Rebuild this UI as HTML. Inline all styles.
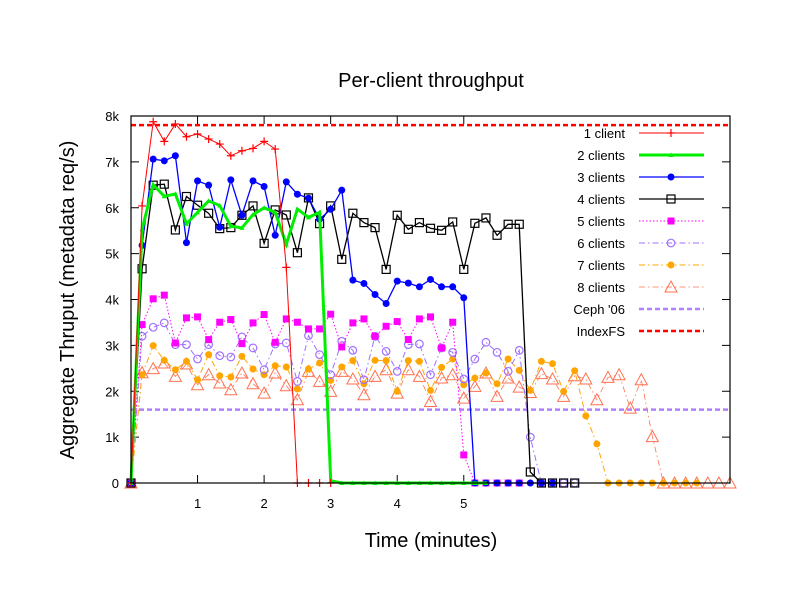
<!DOCTYPE html>
<html><head><meta charset="utf-8"><style>
body{margin:0;background:#fff;}
svg{display:block;font-family:"Liberation Sans",sans-serif;}
</style></head><body>
<svg id="chart" width="792" height="612" xmlns="http://www.w3.org/2000/svg">
<rect width="792" height="612" fill="#fff"/>
<text x="431" y="87" font-size="20" text-anchor="middle">Per-client throughput</text>
<text x="431" y="547" font-size="20" text-anchor="middle">Time (minutes)</text>
<text x="0" y="0" font-size="20" text-anchor="middle" transform="translate(74,300) rotate(-90)">Aggregate Thruput (metadata req/s)</text>
<g id="plot"></g>
<g id="legend"></g>
</svg>
<script>
const yTicks=[0,1000,2000,3000,4000,5000,6000,7000,8000];
const yTickLabels=["0","1k","2k","3k","4k","5k","6k","7k","8k"];
const xTicks=[1,2,3,4,5];
const xTickLabels=["1","2","3","4","5"];
const s1=[0,6040,7875,7447,7825,7548,7607,7497,7388,7133,7242,7293,7447,7279,4700,0,0,0,0];
const s2=[0,5530,6500,6250,6300,5650,5900,6150,6050,5600,5560,5850,6000,5900,5200,5970,5790,5900,50,0,0,0,0,0,0,0,0,0,0,0,0,0,0];
const s3=[0,5180,7060,7023,7133,5240,6586,6492,5574,6608,5836,6586,6463,5400,6564,6295,6208,5750,5967,6383,4422,4350,4109,3913,4400,4357,4277,4437,4277,4277,4037,0,0,0,0,0,0,0,0];
const s4=[0,4670,6492,6514,5516,6245,6055,5880,5545,5567,5836,6040,5224,5953,5843,5020,6215,5654,6040,4875,5880,5676,5567,4656,5836,5530,5676,5552,5508,5690,4656,5661,5778,5400,5640,5640,240,0,0,0,0];
const s5=[0,3453,4015,4095,3053,3599,3621,3126,3504,3563,3038,3490,3672,3067,3577,3504,3359,3359,3679,2966,3490,3577,3198,3417,3519,3126,3577,3621,2944,3504,612,0,0,0,0,0];
const s6=[0,3198,3395,3490,3016,3016,2703,3016,2776,2747,3184,2944,2470,3031,3053,2214,3213,2798,2361,3089,2892,2251,3198,2870,2433,3016,3031,2361,2944,2848,2267,2703,3067,2848,2433,2892,999,0,0,0,0];
const s7=[0,2361,2995,2674,2470,2652,2251,2798,2339,2310,2761,2485,2361,2557,2529,2048,2485,2616,2236,2529,2667,2164,2674,2667,1996,2667,2652,2018,2521,2703,2142,2288,2397,2164,2703,2455,2018,2652,2601,1996,2448,1464,852,0,0,0,0,0,0,0,0,0];
const s8=[0,2404,2492,2616,2324,2594,2142,2361,2179,2033,2397,2164,1960,2397,2120,1814,2433,2214,1996,2433,2267,1923,2324,2470,1960,2470,2324,1777,2288,2361,1851,2105,2397,1887,2288,2091,1974,2383,2267,1887,2339,2267,1814,2302,2361,1632,2251,1012,0,0,0,0,0,0,0];
const cephLevel=1600, indexFSLevel=7800;
const seriesNames=["1 client","2 clients","3 clients","4 clients","5 clients","6 clients","7 clients","8 clients"];

const L=131,R=730,T=116,B=483,STEP=(R-L)/54;
const xs=i=>L+i*STEP;           // sample index (10 s)
const xm=m=>L+m*6*STEP;         // minutes
const ys=v=>B-(v/8000)*(B-T);
const NS="http://www.w3.org/2000/svg";
const plot=document.getElementById('plot'), leg=document.getElementById('legend');
function mk(tag,attrs,parent){const e=document.createElementNS(NS,tag);for(const k in attrs)e.setAttribute(k,attrs[k]);parent.appendChild(e);return e;}

// ticks
yTicks.forEach((v,i)=>{
  const y=ys(v);
  mk('line',{x1:L,x2:L+8,y1:y,y2:y,stroke:'#000'},plot);
  mk('line',{x1:R-8,x2:R,y1:y,y2:y,stroke:'#000'},plot);
  const t=mk('text',{x:L-12,y:y+5,'font-size':13,'text-anchor':'end'},plot);t.textContent=yTickLabels[i];
  
  
});
xTicks.forEach((m,i)=>{
  const x=xm(m);
  mk('line',{x1:x,x2:x,y1:B,y2:B-8,stroke:'#000'},plot);
  mk('line',{x1:x,x2:x,y1:T,y2:T+8,stroke:'#000'},plot);
  const t=mk('text',{x:x,y:B+25,'font-size':13,'text-anchor':'middle'},plot);t.textContent=xTickLabels[i];
  
  
});

const styles=[
 {d:s1,c:'#ff0000',w:1,dash:null,m:'plus'},
 {d:s2,c:'#00ee00',w:3,dash:null,m:'tri-small'},
 {d:s3,c:'#0000ff',w:1.3,dash:null,m:'dot'},
 {d:s4,c:'#000000',w:1.3,dash:null,m:'square'},
 {d:s5,c:'#ff00ff',w:1,dash:'1.5,2',m:'fsquare'},
 {d:s6,c:'#a070ff',w:1,dash:'6,3,1.5,3',m:'ocircle'},
 {d:s7,c:'#ffa500',w:1,dash:'6,3,1.5,3',m:'dot'},
 {d:s8,c:'#ff7050',w:0.8,dash:'6,3,1.5,3',m:'triangle'}
];
function marker(type,x,y,c,g){
  if(type==='plus'){mk('path',{d:`M${x-4} ${y}H${x+4}M${x} ${y-4}V${y+4}`,stroke:c,'stroke-width':1.2},g);}
  else if(type==='tri-small'){mk('path',{d:`M${x-2.5} ${y+2}L${x} ${y-2.5}L${x+2.5} ${y+2}Z`,fill:c},g);}
  else if(type==='dot'){mk('circle',{cx:x,cy:y,r:3.5,fill:c},g);}
  else if(type==='square'){mk('rect',{x:x-4,y:y-4,width:8,height:8,fill:'none',stroke:c,'stroke-width':1.2},g);}
  else if(type==='fsquare'){mk('rect',{x:x-3.5,y:y-3.5,width:7,height:7,fill:c},g);}
  else if(type==='ocircle'){mk('circle',{cx:x,cy:y,r:3.8,fill:'none',stroke:c,'stroke-width':1.2},g);}
  else if(type==='triangle'){mk('path',{d:`M${x-6} ${y+5}L${x} ${y-6}L${x+6} ${y+5}Z`,fill:'none',stroke:c,'stroke-width':1},g);}
}
// reference lines
const ceph=mk('line',{x1:L,x2:R,y1:ys(cephLevel),y2:ys(cephLevel),stroke:'#b080ff','stroke-width':2.5,'stroke-dasharray':'5,3'},plot);


const ifs=mk('line',{x1:L,x2:R,y1:ys(indexFSLevel),y2:ys(indexFSLevel),stroke:'#ff0000','stroke-width':2.5,'stroke-dasharray':'5,3'},plot);



for(let k=styles.length-1;k>=0;k--){
  const s=styles[k];
  const g=mk('g',{},plot);
  
  
  const pts=s.d.map((v,i)=>xs(i).toFixed(1)+','+ys(v).toFixed(1)).join(' ');
  const a={points:pts,fill:'none',stroke:s.c,'stroke-width':s.w};
  if(s.dash)a['stroke-dasharray']=s.dash;
  mk('polyline',a,g);
  s.d.forEach((v,i)=>marker(s.m,xs(i),ys(v),s.c,g));
}
// frame
const fr=mk('rect',{x:L,y:T,width:R-L,height:B-T,fill:'none',stroke:'#000','stroke-width':1.2},plot);



// legend
const legNames=seriesNames.concat(["Ceph '06","IndexFS"]);
legNames.forEach((n,i)=>{
  const y=133+i*22;
  const g=mk('g',{},leg);
  
  
  const t=mk('text',{x:625,y:y+5,'font-size':13,'text-anchor':'end'},g);t.textContent=n;
  if(i<8){
    const s=styles[i];
    const a={x1:639,x2:704,y1:y,y2:y,stroke:s.c,'stroke-width':s.w};
    if(s.dash)a['stroke-dasharray']=s.dash;
    mk('line',a,g);
    marker(s.m,671,y,s.c,g);
  } else {
    mk('line',{x1:639,x2:704,y1:y,y2:y,stroke:i===8?'#b080ff':'#ff0000','stroke-width':2.5,'stroke-dasharray':'5,3'},g);
  }
});
</script>
</body></html>
